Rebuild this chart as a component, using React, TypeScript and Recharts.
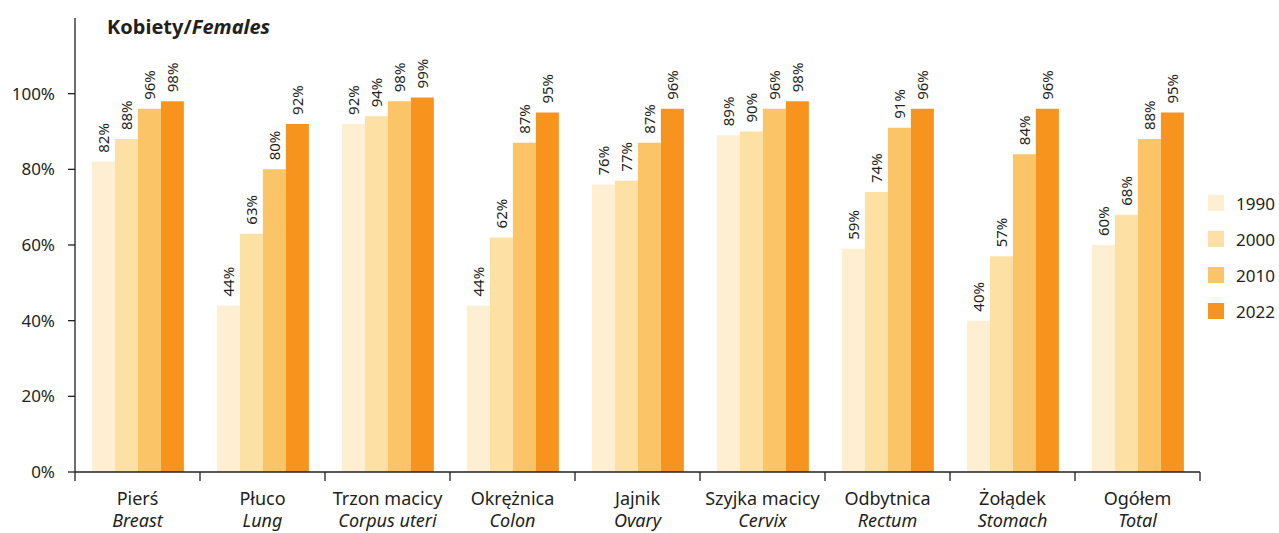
import { BarChart, Bar, XAxis, YAxis, LabelList } from 'recharts'

const categoriesPl = ['Pierś', 'Płuco', 'Trzon macicy', 'Okrężnica', 'Jajnik', 'Szyjka macicy', 'Odbytnica', 'Żołądek', 'Ogółem']
const categoriesEn = ['Breast', 'Lung', 'Corpus uteri', 'Colon', 'Ovary', 'Cervix', 'Rectum', 'Stomach', 'Total']

const v1990 = [82, 44, 92, 44, 76, 89, 59, 40, 60]
const v2000 = [88, 63, 94, 62, 77, 90, 74, 57, 68]
const v2010 = [96, 80, 98, 87, 87, 96, 91, 84, 88]
const v2022 = [98, 92, 99, 95, 96, 98, 96, 96, 95]

const years = ['1990', '2000', '2010', '2022']
const yTicks = [0, 20, 40, 60, 80, 100]

const COLORS = ['#FEEFD3', '#FDE0A3', '#FBC466', '#F7941E']
const FONT = '"Noto Sans", "Open Sans", sans-serif'
const INK = '#231F20'

const data = categoriesPl.map((pl, i) => ({
  pl,
  en: categoriesEn[i],
  y1990: v1990[i],
  y2000: v2000[i],
  y2010: v2010[i],
  y2022: v2022[i],
}))

const series = years.map((yr, i) => ({ key: 'y' + yr, name: yr, color: COLORS[i] }))

function XTick(props: any) {
  const { x, y, payload, index } = props
  const half = payload.offset || 62.5
  const row = data[payload.index ?? index]
  return (
    <g>
      <line x1={x - half} x2={x - half} y1={y - 8} y2={y + 1} stroke={INK} strokeWidth={1.3} />
      {index === data.length - 1 && (
        <line x1={x + half} x2={x + half} y1={y - 8} y2={y + 1} stroke={INK} strokeWidth={1.3} />
      )}
      <text x={x} y={y + 25} textAnchor="middle" fontSize={18} fill={INK} fontFamily={FONT}>{row.pl}</text>
      <text x={x} y={y + 47} textAnchor="middle" fontSize={18} fill={INK} fontFamily={FONT} fontStyle="italic">{row.en}</text>
    </g>
  )
}

function BarLabel(props: any) {
  const { x, y, width, value } = props
  const cx = x + width / 2
  const cy = y - 9
  return (
    <text x={cx} y={cy} transform={`rotate(-90 ${cx} ${cy})`} textAnchor="start" dominantBaseline="central"
      fontSize={15} fill={INK} fontFamily={FONT}>
      {value}%
    </text>
  )
}

export default function App() {
  return (
    <div style={{ position: 'absolute', left: 0, top: 0, width: 1279, height: 533, background: '#fff' }}>
      <div style={{ position: 'absolute', left: 107, top: 13, fontFamily: FONT, fontSize: 20, fontWeight: 700, color: INK, zIndex: 2 }}>
        Kobiety/<i>Females</i>
      </div>
      <div style={{ position: 'absolute', left: 1208, top: 185, fontFamily: FONT, fontSize: 17, color: INK, zIndex: 2 }}>
        {series.map((s) => (
          <div key={s.key} style={{ display: 'flex', alignItems: 'center', height: 36 }}>
            <div style={{ width: 16, height: 16, background: s.color, marginRight: 12 }} />
            <span>{s.name}</span>
          </div>
        ))}
      </div>
      <BarChart width={1279} height={533} data={data} margin={{ top: 18, right: 79, bottom: 0, left: 0 }}
        barCategoryGap="13.5%" barGap={0}>
        <XAxis dataKey="pl" height={61} interval={0} tick={<XTick />} tickLine={false}
          axisLine={{ stroke: INK, strokeWidth: 1.3 }} />
        <YAxis width={75} domain={[0, 120]} ticks={yTicks} allowDataOverflow
          tickFormatter={(v) => `${v}%`} tick={{ fontSize: 17, fill: INK, fontFamily: FONT }}
          tickLine={{ stroke: INK, strokeWidth: 1.3 }} tickSize={7} tickMargin={13}
          axisLine={{ stroke: INK, strokeWidth: 1.3 }} />
        {series.map((s) => (
          <Bar key={s.key} dataKey={s.key} name={s.name} fill={s.color} isAnimationActive={false}>
            <LabelList dataKey={s.key} content={<BarLabel />} />
          </Bar>
        ))}
      </BarChart>
    </div>
  )
}
